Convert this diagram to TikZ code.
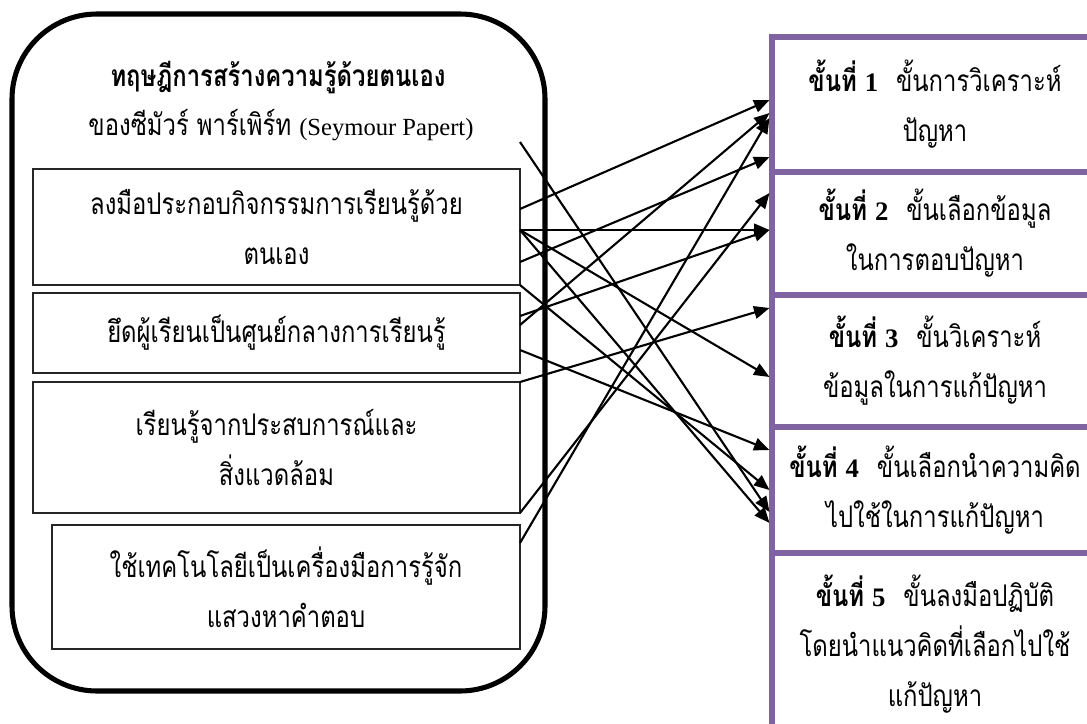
\documentclass[tikz,border=0pt]{standalone}
\usepackage{fontspec}
\setmainfont{Liberation Serif}
\newfontfamily\thai[Script=Thai, FakeStretch=0.8]{Loma}
\usetikzlibrary{arrows.meta,calc}
\definecolor{stepline}{HTML}{8064A2}
\newcommand\stepno[1]{\textbf{ขั้นที่ {\rmfamily\fontsize{19}{35.5}\selectfont #1}}\hspace{0.6em}}

\begin{document}
\begin{tikzpicture}[x=0.025cm,y=-0.025cm,
  txt/.style={font=\thai\fontsize{21.2}{35.5}\selectfont, align=center},
  outerframe/.style={draw, line width=3.6pt, rounded corners=2.125cm, inner sep=0, outer sep=0,
    minimum width=533*0.025cm, minimum height=677*0.025cm},
  idea/.style={txt, draw=black!85, line width=1.1pt, inner sep=0, outer sep=0},
  stepbox/.style={txt, draw=stepline, line width=3.6pt, inner sep=0, outer sep=0,
    minimum width=326*0.025cm},
  link/.style={line width=1.5pt, -{Triangle[length=11pt,width=9pt]}}]

\useasboundingbox (0,0) rectangle (1087,724);
\clip (0,0) rectangle (1087,724);

% theory frame and its heading
\node[outerframe] (theory) at (278.5,352.5) {};
\node[txt] (title) at (278,78) {\textbf{ทฤษฎีการสร้างความรู้ด้วยตนเอง}};
\node[txt] (author) at (281,125)
  {ของซีมัวร์ พาร์เพิร์ท {\rmfamily\fontsize{17.5}{35.5}\selectfont (Seymour Papert)}};

% principles of the theory
\node[idea, minimum width=487*0.025cm, minimum height=116*0.025cm] (b1) at (276.5,227)
  {ลงมือประกอบกิจกรรมการเรียนรู้ด้วย\\ตนเอง};
\node[idea, minimum width=487*0.025cm, minimum height=80*0.025cm] (b2) at (276.5,333)
  {ยึดผู้เรียนเป็นศูนย์กลางการเรียนรู้};
\node[idea, minimum width=487*0.025cm, minimum height=131*0.025cm] (b3) at (276.5,447.5)
  {เรียนรู้จากประสบการณ์และ\\สิ่งแวดล้อม};
\node[idea, minimum width=468*0.025cm, minimum height=124*0.025cm] (b4) at (286,587)
  {ใช้เทคโนโลยีเป็นเครื่องมือการรู้จัก\\แสวงหาคำตอบ};

% problem-solving steps
\node[stepbox, minimum height=135*0.025cm] (s1) at (935,104.5)
  {\stepno{1}ขั้นการวิเคราะห์\\ปัญหา};
\node[stepbox, minimum height=123*0.025cm] (s2) at (935,233.5)
  {\stepno{2}ขั้นเลือกข้อมูล\\ในการตอบปัญหา};
\node[stepbox, minimum height=132*0.025cm] (s3) at (935,361)
  {\stepno{3}ขั้นวิเคราะห์\\ข้อมูลในการแก้ปัญหา};
\node[stepbox, minimum height=126*0.025cm] (s4) at (935,490)
  {\stepno{4}ขั้นเลือกนำความคิด\\ไปใช้ในการแก้ปัญหา};
\node[stepbox, minimum height=183*0.025cm] (s5) at (935,644.5)
  {\stepno{5}ขั้นลงมือปฏิบัติ\\โดยนำแนวคิดที่เลือกไปใช้\\แก้ปัญหา};

% links from principles to steps
\coordinate (free) at ($(b1.north east)+(0,-27)$);
\draw[link] (free) -- ($(s4.north west)+(-2.5,85)$);
\draw[link] ($(b1.north east)+(0,40)$) -- ($(s1.north west)+(-2.5,63)$);
\draw[link] ($(b1.north east)+(0,61)$) -- ($(s2.north west)+(-2.5,58)$);
\draw[link] ($(b1.north east)+(0,61)$) -- ($(s3.north west)+(-2.5,82)$);
\draw[link] ($(b1.north east)+(0,61)$) -- ($(s4.north west)+(-2.5,96)$);
\draw[link] ($(b1.north east)+(0,93)$) -- ($(s1.north west)+(-2.5,120)$);
\draw[link] (b1.south east) -- ($(s4.north west)+(-2.5,63)$);
\draw[link] ($(b2.north east)+(0,23)$) -- ($(s2.north west)+(-2.5,58)$);
\draw[link] ($(b2.north east)+(0,32)$) -- ($(s1.north west)+(-2.5,76)$);
\draw[link] ($(b2.north east)+(0,57)$) -- ($(s4.north west)+(-2.5,23)$);
\draw[link] (b3.north east) -- ($(s3.north west)+(-2.5,13)$);
\draw[link] (b3.south east) -- ($(s2.north west)+(-2.5,21)$);
\draw[link] ($(b4.north east)+(0,18)$) -- ($(s1.north west)+(-2.5,81)$);
\end{tikzpicture}
\end{document}
